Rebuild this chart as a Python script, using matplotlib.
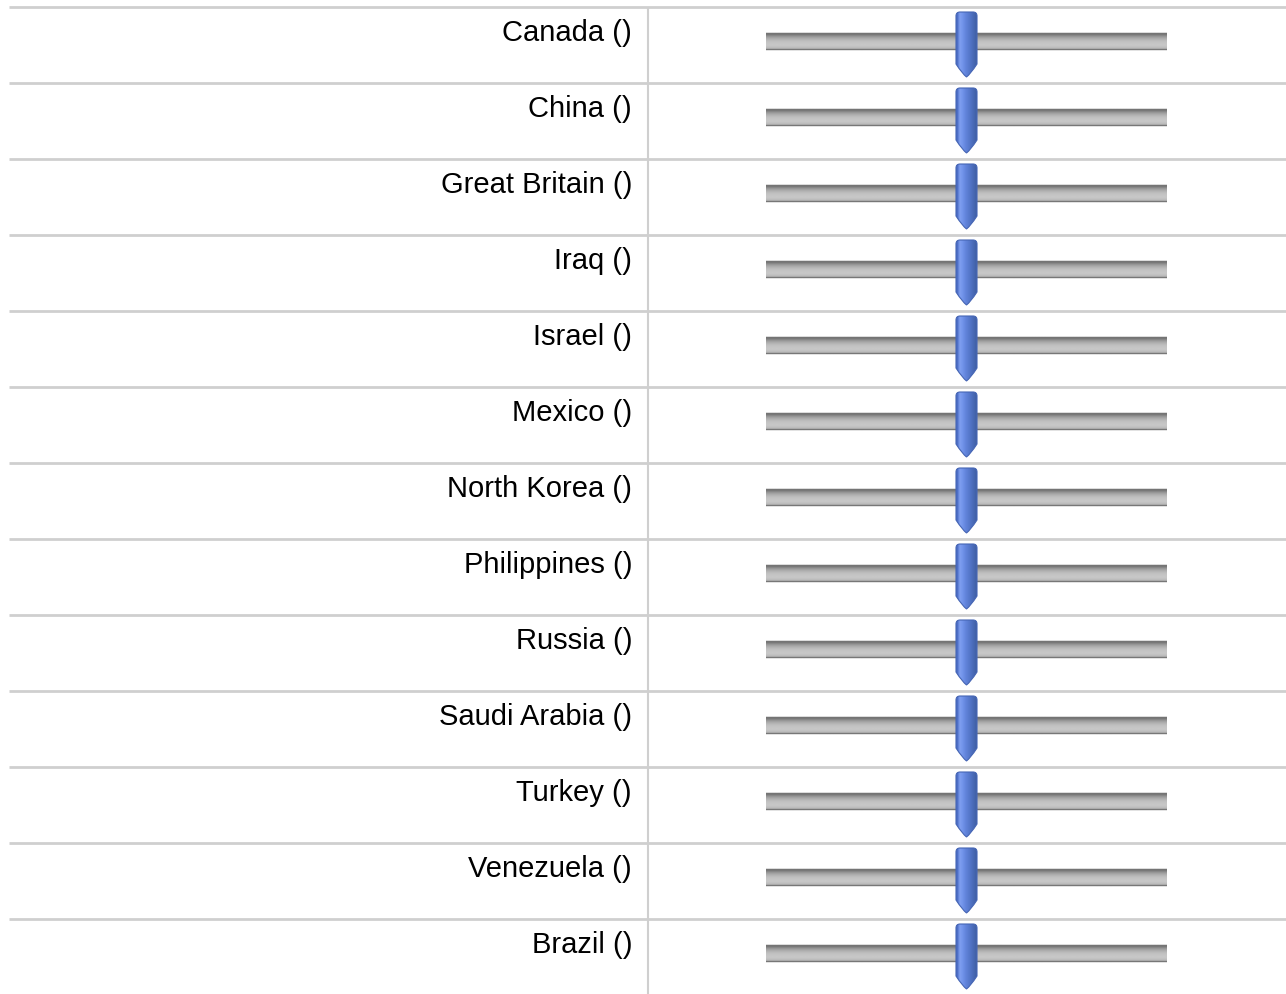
import matplotlib
matplotlib.use("Agg")
import matplotlib.pyplot as plt
from matplotlib.path import Path
import numpy as np

# data
countries = ["Canada", "China", "Great Britain", "Iraq", "Israel", "Mexico",
             "North Korea", "Philippines", "Russia", "Saudi Arabia", "Turkey",
             "Venezuela", "Brazil"]
values = [0, 0, 0, 0, 0, 0, 0, 0, 0, 0, 0, 0, 0]
vmin, vmax = -100, 100

W, H = 1286, 995
top, row_h = 8, 76
col_x = 648
track_x0, track_x1 = 766, 1167

fig = plt.figure(figsize=(W / 100, H / 100), dpi=100)
ax = fig.add_axes([0, 0, 1, 1])
ax.set_xlim(0, W)
ax.set_ylim(H, 0)
ax.axis("off")

grid_c = "#cfcfcf"
ax.plot([col_x, col_x], [top, H], color=grid_c, lw=1.5, solid_capstyle="butt")

# vertical colour profile of the track
track_cols = ["#dcdcdc", "#6c6c6c", "#7a7a7a", "#8a8a8a", "#9a9a9a", "#a6a6a6",
              "#b0b0b0", "#b8b8b8", "#bebebe", "#c2c2c2", "#c5c5c5", "#c7c7c7",
              "#c7c7c7", "#c4c4c4", "#bebebe", "#b4b4b4", "#6e6e6e", "#e2e2e2"]
track_img = np.array([[matplotlib.colors.to_rgb(c)] for c in track_cols])

# horizontal gradient of the handle
handle_grad = np.array([[matplotlib.colors.to_rgb(c) for c in
                         ["#4a6cc4", "#7f9ff0", "#7294ea", "#6587de", "#5b7dd2",
                          "#5274c6", "#4a6bb8", "#4262a8"]]])


def handle_path(cx, y0, y1):
    w = 10.5
    r = 4
    taper = y1 - 13
    verts = [
        (cx - w, y0 + r), (cx - w, y0), (cx - w + r, y0),
        (cx + w - r, y0), (cx + w, y0), (cx + w, y0 + r),
        (cx + w, taper), (cx + 4, y1 - 3), (cx, y1),
        (cx - 4, y1 - 3), (cx - w, taper), (cx - w, y0 + r),
    ]
    codes = [Path.MOVETO, Path.CURVE3, Path.CURVE3,
             Path.LINETO, Path.CURVE3, Path.CURVE3,
             Path.LINETO, Path.CURVE3, Path.CURVE3,
             Path.CURVE3, Path.CURVE3, Path.CLOSEPOLY]
    return Path(verts, codes)


for i, (name, v) in enumerate(zip(countries, values)):
    y = top + i * row_h
    ax.plot([9, W], [y, y], color=grid_c, lw=2, solid_capstyle="butt")
    ax.text(632, y + 33, f"{name} ()", ha="right", va="baseline",
            fontsize=21, family=["Liberation Sans", "DejaVu Sans"], color="black")

    # track
    ax.imshow(track_img, extent=[track_x0, track_x1, y + 44, y + 25],
              aspect="auto", interpolation="bilinear", zorder=2)

    # handle
    cx = track_x0 + (v - vmin) / (vmax - vmin) * (track_x1 - track_x0)
    p = handle_path(cx, y + 5, y + 70)
    im = ax.imshow(handle_grad, extent=[cx - 10.5, cx + 10.5, y + 70, y + 5],
                   aspect="auto", interpolation="bilinear", zorder=3)
    patch = matplotlib.patches.PathPatch(p, facecolor="none", edgecolor="#4565b4",
                                         lw=0.8, zorder=4)
    ax.add_patch(patch)
    im.set_clip_path(patch)

ax.set_xlim(0, W)
ax.set_ylim(H, 0)
fig.savefig("out.png", dpi=100)
